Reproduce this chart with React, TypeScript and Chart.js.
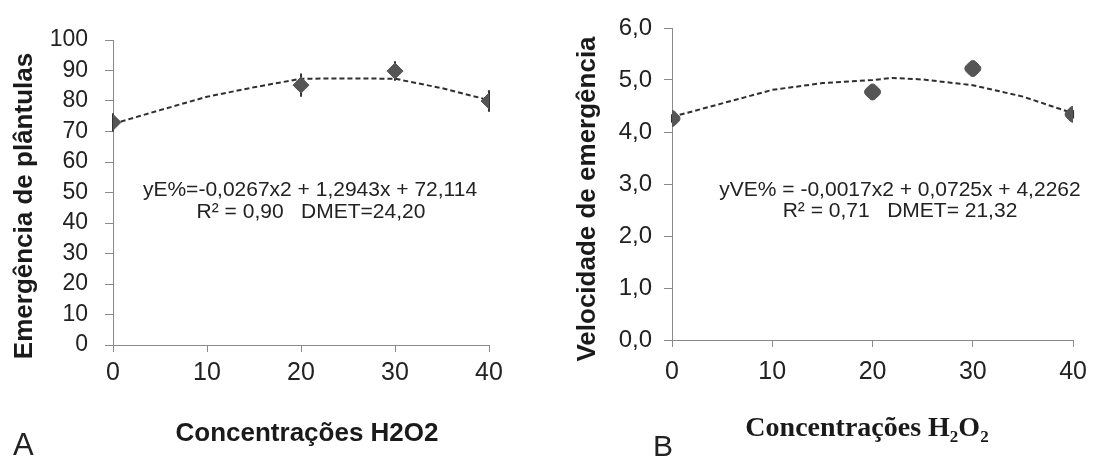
import React, { useEffect, useRef } from "react";
import { Chart, registerables } from "chart.js";

Chart.register(...registerables);

// ---------------- data ----------------
const concentrations = [0, 20, 30, 40];

const emergence = [73.0, 85.2, 89.8, 80.0];
const emergenceErr = [3.0, 3.8, 3.2, 3.5];
const emergenceTrendX = [0, 5, 10, 15, 20, 25, 30, 35, 40];
const emergenceTrendY = [72.5, 77.0, 81.4, 84.5, 87.3, 87.4, 87.3, 84.2, 80.3];

const velocity = [4.26, 4.77, 5.22, 4.34];
const velocityErr = [0.08, 0.08, 0.08, 0.08];
const velocityTrendX = [0, 5, 10, 15, 20, 22, 25, 30, 35, 40];
const velocityTrendY = [4.29, 4.55, 4.81, 4.94, 5.0, 5.04, 5.01, 4.9, 4.68, 4.36];

const xTickLabels = ["0", "10", "20", "30", "40"];
const leftYTickLabels = ["0", "10", "20", "30", "40", "50", "60", "70", "80", "90", "100"];
const rightYTickLabels = ["0,0", "1,0", "2,0", "3,0", "4,0", "5,0", "6,0"];

const leftYTitle = "Emergência de plântulas";
const rightYTitle = "Velocidade de emergência";
const leftXTitle = "Concentrações H2O2";
const rightXTitleRuns = [
  { t: "Concentrações H", sub: false },
  { t: "2", sub: true },
  { t: "O", sub: false },
  { t: "2", sub: true },
];
const leftEquation = ["yE%=-0,0267x2 + 1,2943x + 72,114", "R² = 0,90   DMET=24,20"];
const rightEquation = ["yVE% = -0,0017x2 + 0,0725x + 4,2262", "R² = 0,71   DMET= 21,32"];
const panelLabels = ["A", "B"];

// ---------------- helpers ----------------
const SANS = "'Liberation Sans', Arial, sans-serif";
const SERIF = "'Liberation Serif', 'Times New Roman', serif";

type Run = { t: string; sub: boolean };
type TextItem = {
  text?: string;
  runs?: Run[];
  x: number;
  y: number;
  size: number;
  family: string;
  weight?: string;
  align: CanvasTextAlign;
  rotate?: number;
  color?: string;
};

function makeTextPlugin(items: TextItem[]) {
  return {
    id: "texts",
    afterDraw(chart: any) {
      const ctx: CanvasRenderingContext2D = chart.ctx;
      for (const it of items) {
        ctx.save();
        ctx.translate(it.x, it.y);
        if (it.rotate) ctx.rotate(it.rotate);
        ctx.fillStyle = it.color || "#1a1a1a";
        ctx.textBaseline = "alphabetic";
        const w = it.weight || "normal";
        if (it.text !== undefined) {
          ctx.font = `${w} ${it.size}px ${it.family}`;
          ctx.textAlign = it.align;
          ctx.fillText(it.text, 0, 0);
        } else if (it.runs) {
          const subSize = Math.round(it.size * 0.62);
          let total = 0;
          const widths = it.runs.map((r) => {
            ctx.font = `${w} ${r.sub ? subSize : it.size}px ${it.family}`;
            const m = ctx.measureText(r.t).width;
            total += m;
            return m;
          });
          let x = it.align === "center" ? -total / 2 : it.align === "right" ? -total : 0;
          ctx.textAlign = "left";
          it.runs.forEach((r, i) => {
            ctx.font = `${w} ${r.sub ? subSize : it.size}px ${it.family}`;
            ctx.fillText(r.t, x, r.sub ? it.size * 0.22 : 0);
            x += widths[i];
          });
        }
        ctx.restore();
      }
    },
  };
}

function makeErrorPlugin(xs: number[], ys: number[], errs: number[]) {
  return {
    id: "errorBars",
    beforeDatasetsDraw(chart: any) {
      const ctx: CanvasRenderingContext2D = chart.ctx;
      const sx = chart.scales.x;
      const sy = chart.scales.y;
      ctx.save();
      ctx.strokeStyle = "#333333";
      ctx.lineWidth = 2;
      xs.forEach((xv, i) => {
        const px = sx.getPixelForValue(xv);
        const top = sy.getPixelForValue(ys[i] + errs[i]);
        const bot = sy.getPixelForValue(ys[i] - errs[i]);
        ctx.beginPath();
        ctx.moveTo(px, top);
        ctx.lineTo(px, bot);
        ctx.stroke();
      });
      ctx.restore();
    },
  };
}

type PanelCfg = {
  width: number;
  height: number;
  values: number[];
  errs: number[];
  trendX: number[];
  trendY: number[];
  yMax: number;
  yStep: number;
  yLabels: string[];
  yAxisWidth: number;
  xAxisHeight: number;
  padTop: number;
  padRight: number;
  yTickSize: number;
  yTickPad: number;
  xTickSize: number;
  xTickPad: number;
  pointStyle: string;
  pointRadius: number;
  pointRotation: number;
  texts: TextItem[];
};

function Panel({ cfg, left }: { cfg: PanelCfg; left: number }) {
  const ref = useRef<HTMLCanvasElement | null>(null);
  useEffect(() => {
    if (!ref.current) return;
    const axisColor = "#8a8a8a";
    const tickColor = "#222222";
    const chart = new Chart(ref.current, {
      type: "scatter",
      data: {
        datasets: [
          {
            data: concentrations.map((x, i) => ({ x, y: cfg.values[i] })),
            showLine: false,
            pointStyle: cfg.pointStyle as any,
            pointRadius: cfg.pointRadius,
            pointRotation: cfg.pointRotation,
            pointBackgroundColor: "#555555",
            pointBorderColor: "#555555",
            pointBorderWidth: 1,
          },
          {
            data: cfg.trendX.map((x, i) => ({ x, y: cfg.trendY[i] })),
            showLine: true,
            pointRadius: 0,
            borderColor: "#2e2e2e",
            borderWidth: 2,
            borderDash: [5, 3],
            tension: 0,
            fill: false,
          },
        ],
      },
      options: {
        responsive: false,
        animation: false,
        events: [],
        layout: { padding: { top: cfg.padTop, right: cfg.padRight, left: 0, bottom: 0 } },
        plugins: {
          legend: { display: false },
          tooltip: { enabled: false },
          title: { display: false },
        },
        scales: {
          x: {
            type: "linear",
            min: 0,
            max: 40,
            ticks: {
              stepSize: 10,
              autoSkip: false,
              maxRotation: 0,
              color: tickColor,
              padding: cfg.xTickPad,
              font: { family: SANS, size: cfg.xTickSize },
              callback: (_v: any, i: number) => xTickLabels[i],
            },
            grid: {
              display: true,
              drawOnChartArea: false,
              drawTicks: true,
              tickLength: 7,
              color: axisColor,
            },
            border: { display: true, color: axisColor, width: 1 },
            afterFit: (s: any) => {
              s.height = cfg.xAxisHeight;
            },
          },
          y: {
            type: "linear",
            min: 0,
            max: cfg.yMax,
            ticks: {
              stepSize: cfg.yStep,
              autoSkip: false,
              color: tickColor,
              padding: cfg.yTickPad,
              font: { family: SANS, size: cfg.yTickSize },
              callback: (_v: any, i: number) => cfg.yLabels[i],
            },
            grid: {
              display: true,
              drawOnChartArea: false,
              drawTicks: true,
              tickLength: 8,
              color: axisColor,
            },
            border: { display: true, color: axisColor, width: 1 },
            afterFit: (s: any) => {
              s.width = cfg.yAxisWidth;
            },
          },
        },
      } as any,
      plugins: [makeErrorPlugin(concentrations, cfg.values, cfg.errs), makeTextPlugin(cfg.texts)],
    });
    return () => chart.destroy();
  }, [cfg]);
  return (
    <canvas
      ref={ref}
      width={cfg.width}
      height={cfg.height}
      style={{ position: "absolute", left, top: 0, width: cfg.width, height: cfg.height }}
    />
  );
}

const leftCfg: PanelCfg = {
  width: 550,
  height: 457,
  values: emergence,
  errs: emergenceErr,
  trendX: emergenceTrendX,
  trendY: emergenceTrendY,
  yMax: 100,
  yStep: 10,
  yLabels: leftYTickLabels,
  yAxisWidth: 113,
  xAxisHeight: 112,
  padTop: 40,
  padRight: 61,
  yTickSize: 23,
  yTickPad: 17,
  xTickSize: 25,
  xTickPad: 6,
  pointStyle: "rectRot",
  pointRadius: 8,
  pointRotation: 0,
  texts: [
    { text: leftYTitle, x: 32, y: 206, size: 26, family: SANS, weight: "bold", align: "center", rotate: -Math.PI / 2 },
    { text: leftXTitle, x: 307, y: 441, size: 26, family: SANS, weight: "bold", align: "center" },
    { text: leftEquation[0], x: 310, y: 196, size: 21, family: SANS, align: "center", color: "#222" },
    { text: leftEquation[1], x: 311, y: 218, size: 21, family: SANS, align: "center", color: "#222" },
    { text: panelLabels[0], x: 13, y: 455, size: 31, family: SANS, align: "left", color: "#222" },
  ],
};

const rightCfg: PanelCfg = {
  width: 547,
  height: 457,
  values: velocity,
  errs: velocityErr,
  trendX: velocityTrendX,
  trendY: velocityTrendY,
  yMax: 6,
  yStep: 1,
  yLabels: rightYTickLabels,
  yAxisWidth: 122,
  xAxisHeight: 117,
  padTop: 28,
  padRight: 14,
  yTickSize: 24,
  yTickPad: 12,
  xTickSize: 25,
  xTickPad: 10,
  pointStyle: "rectRounded",
  pointRadius: 8,
  pointRotation: 45,
  texts: [
    { text: rightYTitle, x: 45, y: 199, size: 26, family: SANS, weight: "bold", align: "center", rotate: -Math.PI / 2 },
    { runs: rightXTitleRuns, x: 317, y: 436, size: 28, family: SERIF, weight: "bold", align: "center" },
    { text: rightEquation[0], x: 350, y: 196, size: 21, family: SANS, align: "center", color: "#222" },
    { text: rightEquation[1], x: 350, y: 217, size: 21, family: SANS, align: "center", color: "#222" },
    { text: panelLabels[1], x: 103, y: 456, size: 30, family: SANS, align: "left", color: "#222" },
  ],
};

export default function App() {
  return (
    <div
      style={{
        position: "fixed",
        left: 0,
        top: 0,
        width: 1097,
        height: 457,
        background: "#ffffff",
        overflow: "hidden",
      }}
    >
      <Panel cfg={leftCfg} left={0} />
      <Panel cfg={rightCfg} left={550} />
    </div>
  );
}
